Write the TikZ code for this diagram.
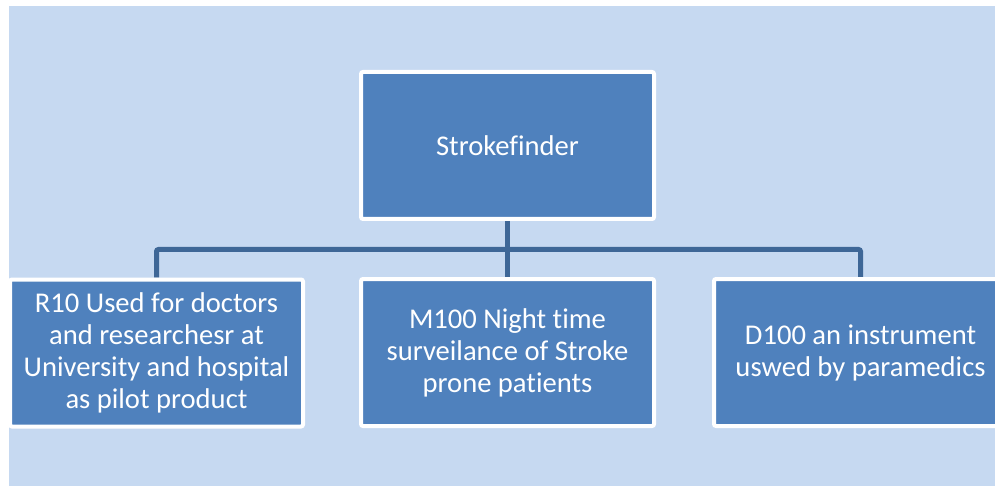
\documentclass[tikz,border=0pt]{standalone}
\usepackage{fontspec}
\setmainfont{Carlito}[Ligatures=NoCommon]
\usepackage{xcolor}
\usepackage{tikz}
\usetikzlibrary{positioning,backgrounds}

\definecolor{bgblue}{HTML}{C6D9F1}
\definecolor{boxblue}{HTML}{4F81BD}
\definecolor{linkblue}{HTML}{3E6797}

\begin{document}
\begin{tikzpicture}[
    x=1pt,y=-1pt,
    font=\fontsize{28.6}{32}\selectfont,
    box/.style={draw=white,line width=4pt,fill=boxblue,rounded corners=2pt,text=white,
      align=center,minimum width=293pt,minimum height=147pt,inner sep=0pt},
    conn/.style={draw=linkblue,line width=5pt,rounded corners=2pt}
  ]
    \useasboundingbox (0,0) rectangle (995,486);
    \clip (0,0) rectangle (995,486);

    \node[box] (prod) at (507.5,145.5) {Strokefinder};

    \node[box] (r10) at (156.5,353) {R10 Used for doctors\\and researchesr at\\University and hospital\\as pilot product};
    \node[box] (m100) at (507.5,352.5) {M100 Night time\\surveilance of Stroke\\prone patients};
    \node[box] (d100) at (860.5,352.5) {D100 an instrument\\uswed by paramedics};

    \coordinate (bus) at (507.5,249.5);

    \begin{pgfonlayer}{background}
      \fill[bgblue] (9,6) rectangle (995,486);
      \draw[conn] (prod.south) -- (bus);
      \draw[conn] (r10.north) |- (bus) -| (d100.north);
      \draw[conn] (bus) -- (m100.north);
    \end{pgfonlayer}
  \end{tikzpicture}
\end{document}
